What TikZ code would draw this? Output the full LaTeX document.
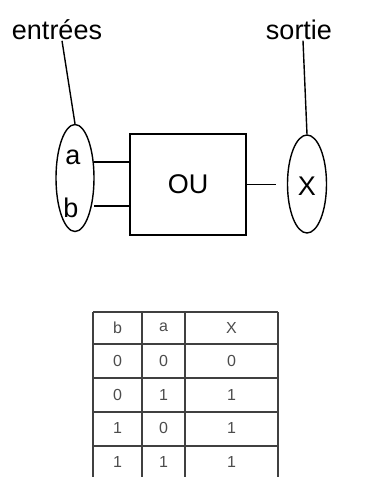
\documentclass[tikz,border=0pt]{standalone}
\usepackage{fontspec}
\setmainfont{Liberation Sans}
\usetikzlibrary{shapes.geometric}
\tikzset{
  label/.style={font=\fontsize{27}{29}\selectfont, inner sep=0pt},
  bulle/.style={draw, ellipse, line width=1.4pt, inner sep=0pt},
  tabtext/.style={font=\fontsize{16}{18}\selectfont, text=black!70},
  tabline/.style={line width=1.8pt, draw=black!75}
}
\begin{document}
\begin{tikzpicture}[x=1pt,y=-1pt,line width=1.4pt]
\useasboundingbox (0,0) rectangle (371,477);
% schema
\node[label] (entrees) at (57,30) {entrées};
\node[label] (sortie) at (299,30) {sortie};
\node[bulle, minimum width=38, minimum height=107] (in) at (75,178) {};
\node[bulle, minimum width=39, minimum height=98] (out) at (307,184) {};
\node[label] (a) at (73,157) {a};
\node[label] (b) at (71,208) {b};
\node[label] (x) at (307,186) {X};
\node[draw, label, minimum width=116, minimum height=101] (ou) at (188,184.5) {OU};
\draw ([xshift=5]entrees.south) -- (in.north);
\draw ([xshift=4]sortie.south) -- (out.north);
\coordinate (ina) at (94,162);
\coordinate (inb) at (94,206);
\coordinate (outl) at (276,184.5);
\draw (ina) -- (ina -| ou.west);
\draw (inb) -- (inb -| ou.west);
\draw (ou.east) -- (outl);
% table de verite
\foreach \x in {93,142,185,278}
  \draw[tabline] (\x,312) -- (\x,477);
\foreach \y in {312,344,378,412,446}
  \draw[tabline] (93,\y) -- (278,\y);
\foreach \b/\a/\s [count=\r] in {b/a/X,0/0/0,0/1/1,1/0/1,1/1/1}{
  \pgfmathsetmacro\ty{294+33.6*\r}
  \node[tabtext] (t-\r-1) at (117.5,\ty) {\b};
  \node[tabtext] (t-\r-2) at (163.5,\ty) {\a};
  \node[tabtext] (t-\r-3) at (231.5,\ty) {\s};
}
\end{tikzpicture}
\end{document}
